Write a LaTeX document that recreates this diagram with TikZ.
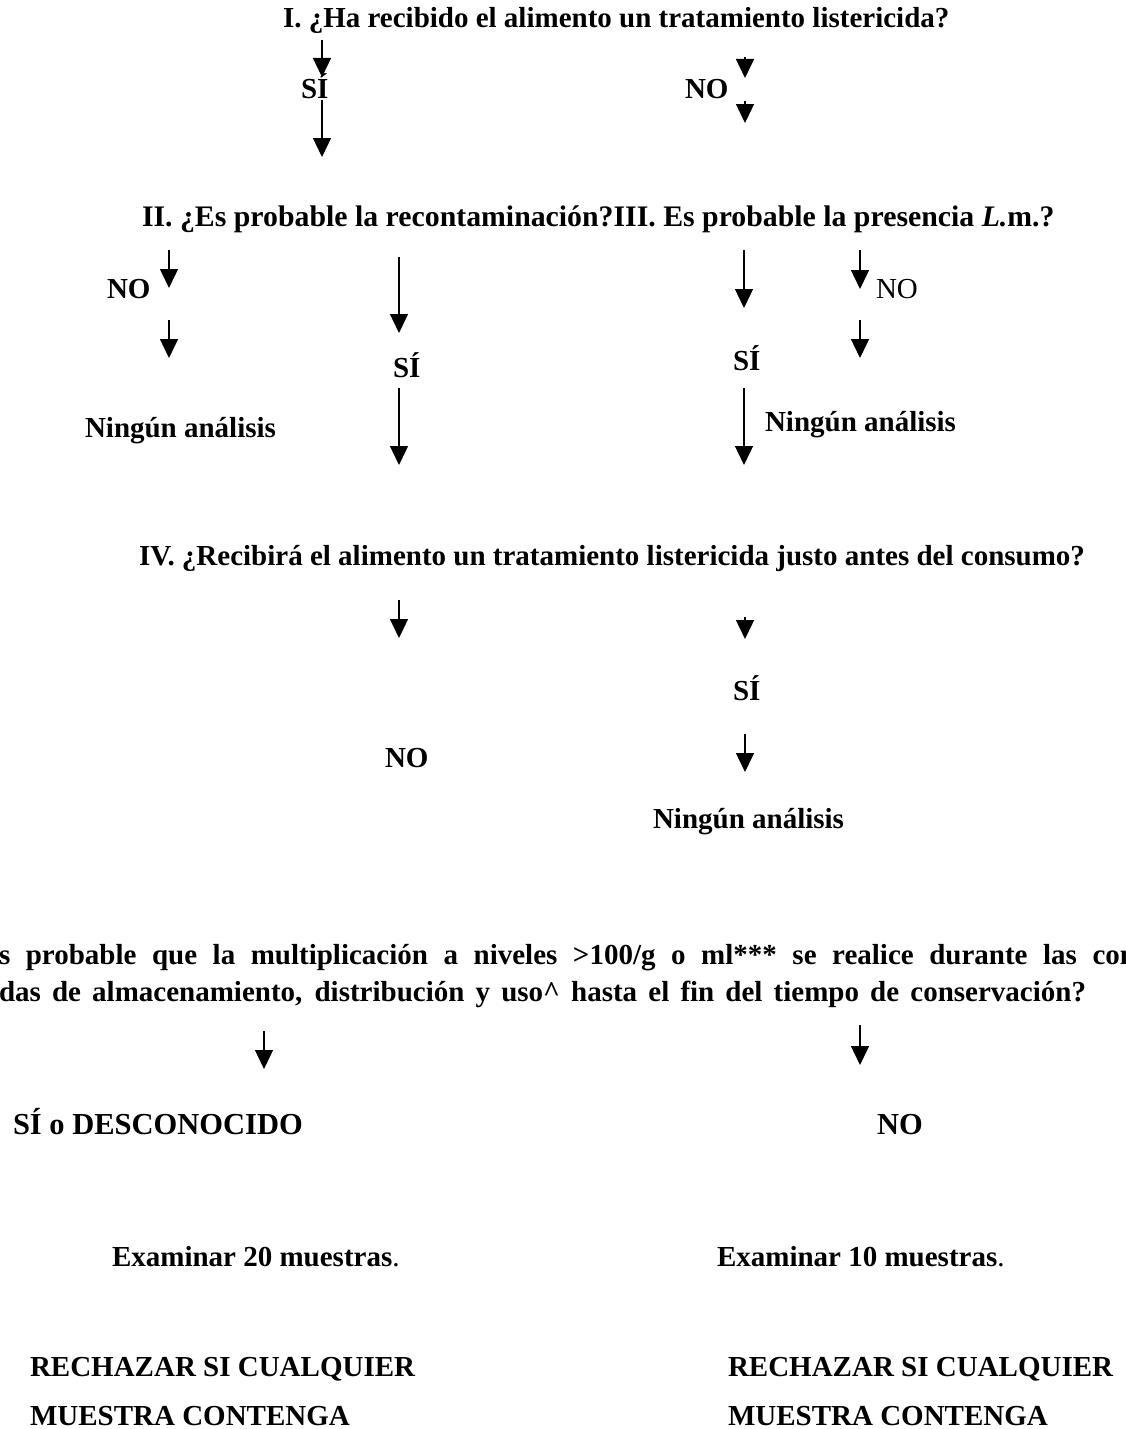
\documentclass[tikz,border=0pt]{standalone}
\usepackage{fontspec}
\setmainfont{Liberation Serif}
\usetikzlibrary{arrows.meta}
\tikzset{
  lbl/.style={inner sep=0pt, outer sep=0pt, anchor=base west, font=\fontsize{29}{34}\selectfont\bfseries},
  lblbig/.style={lbl, font=\fontsize{30.5}{36}\selectfont\bfseries},
  lblmid/.style={lbl, font=\fontsize{29.8}{35}\selectfont\bfseries},
  lblr/.style={inner sep=0pt, outer sep=0pt, anchor=base west, font=\fontsize{29}{34}\selectfont},
  arr/.style={line width=1.4pt, -{Triangle[width=18pt,length=19pt]}},
}
\begin{document}
\begin{tikzpicture}[x=1pt,y=-1pt]
\useasboundingbox (0,0) rectangle (1125,1429);
\clip (0,0) rectangle (1125,1429);
% ---- I ----
\node[lbl] (q1) at (283,28) {I. ¿Ha recibido el alimento un tratamiento listericida?};
\node[lbl] (si1) at (301,98) {SÍ};
\node[lbl] (no1) at (685,98) {NO};
\coordinate (a1s) at (322,40);  \coordinate (a1e) at (322,77);
\coordinate (a2s) at (322,100); \coordinate (a2e) at (322,157);
\coordinate (n1s) at (745,57);  \coordinate (n1e) at (745,78);
\coordinate (n2s) at (745,101); \coordinate (n2e) at (745,123);
\draw[arr] (a1s) -- (a1e);
\draw[arr] (a2s) -- (a2e);
\draw[arr] (n1s) -- (n1e);
\draw[arr] (n2s) -- (n2e);
% ---- II / III ----
\node[lblmid] (q2) at (142,226) {II. ¿Es probable la recontaminación?III. Es probable la presencia \textit{L.}m.?};
\node[lbl] (no2) at (107,298) {NO};
\node[lbl] (na2) at (85,437) {Ningún análisis};
\node[lbl] (si2) at (393,377) {SÍ};
\node[lbl] (si3) at (733,370) {SÍ};
\node[lblr] (no3) at (876,298) {NO};
\node[lbl] (na3) at (765,431) {Ningún análisis};
\coordinate (b1s) at (169,250); \coordinate (b1e) at (169,288);
\coordinate (b2s) at (169,320); \coordinate (b2e) at (169,358);
\coordinate (c1s) at (399,257); \coordinate (c1e) at (399,333);
\coordinate (c2s) at (399,388); \coordinate (c2e) at (399,465);
\coordinate (d1s) at (744,250); \coordinate (d1e) at (744,308);
\coordinate (d2s) at (744,388); \coordinate (d2e) at (744,465);
\coordinate (e1s) at (860,250); \coordinate (e1e) at (860,289);
\coordinate (e2s) at (860,320); \coordinate (e2e) at (860,358);
\foreach \s/\e in {b1s/b1e,b2s/b2e,c1s/c1e,c2s/c2e,d1s/d1e,d2s/d2e,e1s/e1e,e2s/e2e}
  \draw[arr] (\s) -- (\e);
% ---- IV ----
\node[lbl] (q4) at (139,565) {IV. ¿Recibirá el alimento un tratamiento listericida justo antes del consumo?};
\node[lbl] (si4) at (733,700) {SÍ};
\node[lbl] (no4) at (385,767) {NO};
\node[lbl] (na4) at (653,828) {Ningún análisis};
\coordinate (f1s) at (399,600); \coordinate (f1e) at (399,638);
\coordinate (g1s) at (745,617); \coordinate (g1e) at (745,639);
\coordinate (g2s) at (745,734); \coordinate (g2e) at (745,772);
\draw[arr] (f1s) -- (f1e);
\draw[arr] (g1s) -- (g1e);
\draw[arr] (g2s) -- (g2e);
% ---- V ----
\node[lbl] (q5a) at (-1,964) {\makebox[1137pt][s]{s probable que la multiplicación a niveles >100/g o ml*** se realice durante las con}};
\node[lbl] (q5b) at (-1,1001) {\makebox[1087pt][s]{das de almacenamiento, distribución y uso\^{} hasta el fin del tiempo de conservación?}};
\coordinate (h1s) at (264,1031); \coordinate (h1e) at (264,1069);
\coordinate (h2s) at (860,1025); \coordinate (h2e) at (860,1065);
\draw[arr] (h1s) -- (h1e);
\draw[arr] (h2s) -- (h2e);
\node[lblbig] (sd) at (13,1134) {SÍ o DESCONOCIDO};
\node[lblbig] (no5) at (877,1134) {NO};
\node[lbl] (ex20) at (112,1266) {Examinar 20 muestras\mdseries .};
\node[lbl] (ex10) at (717,1266) {Examinar 10 muestras\mdseries .};
\node[lbl] (r1) at (30,1376) {RECHAZAR SI CUALQUIER};
\node[lbl] (r2) at (728,1376) {RECHAZAR SI CUALQUIER};
\node[lbl] (m1) at (30,1425) {MUESTRA CONTENGA};
\node[lbl] (m2) at (728,1425) {MUESTRA CONTENGA};
\end{tikzpicture}
\end{document}
